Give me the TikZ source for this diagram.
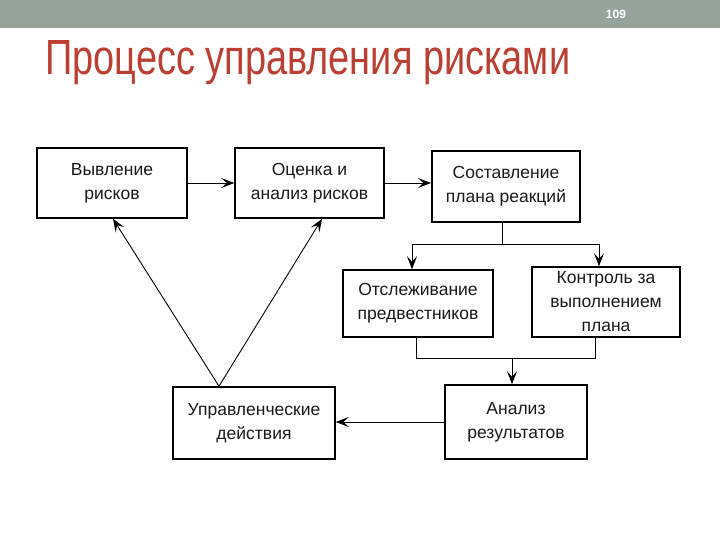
\documentclass[tikz,border=0pt]{standalone}
\usepackage{fontspec}
\setmainfont{Liberation Sans}
\usetikzlibrary{arrows.meta,calc}
\definecolor{barcol}{HTML}{95A39A}
\definecolor{titlecol}{HTML}{BC3F33}
\definecolor{txtcol}{HTML}{1A1A1A}
\tikzset{
  box/.style={draw=black, line width=1.6pt, fill=white, align=center, text=txtcol,
    font=\fontsize{17.5}{24}\selectfont, inner sep=2pt},
  arr/.style={line width=0.9pt, -{Stealth[length=13pt,width=10pt,inset=5.5pt]}},
  ln/.style={line width=0.9pt}
}
\begin{document}
\begin{tikzpicture}[x=1pt,y=-1pt]
\useasboundingbox (0,0) rectangle (720,540);
\fill[barcol] (0,0) rectangle (720,28);
\node[text=white, font=\bfseries\fontsize{12}{12}\selectfont] (pg) at (616,14) {109};
\node[anchor=base west, inner sep=0pt, text=titlecol] (title) at (45,75)
  {\resizebox{525pt}{34pt}{\fontsize{40}{40}\selectfont Процесс управления рисками}};

\node[box, minimum width=150pt, minimum height=70pt] (b1) at (112,183) {Вывление\\рисков};
\node[box, minimum width=149pt, minimum height=70pt] (b2) at (309.5,183) {Оценка и\\анализ рисков};
\node[box, minimum width=148pt, minimum height=71pt, line width=2.2pt] (b3) at (506,186.5) {Составление\\плана реакций};
\node[box, minimum width=150pt, minimum height=67pt] (b4) at (418,303.5) {Отслеживание\\предвестников};
\node[box, minimum width=148pt, minimum height=70pt] (b5) at (606,302) {Контроль за\\выполнением\\плана};
\node[box, minimum width=142pt, minimum height=74pt] (b6) at (516,422) {Анализ\\результатов};
\node[box, minimum width=162pt, minimum height=72pt] (b7) at (254,423) {Управленческие\\действия};

\draw[arr] (b1.east) -- (b2.west);
\draw[arr] (b2.east) -- (b2.east-|b3.west);

\coordinate (s) at (502,244);
\coordinate (sl) at (412,244);
\coordinate (sr) at (599,244);
\draw[ln] (b3.south-|s) -- (s);
\draw[ln] (sl) -- (sr);
\draw[arr] (sl) -- (b4.north-|sl);
\draw[arr] (sr) -- (b5.north-|sr);

\coordinate (ml) at (416,358);
\coordinate (mr) at (595,358);
\coordinate (m) at (512,358);
\draw[ln] (b4.south-|ml) -- (ml) -- (mr) -- (b5.south-|mr);
\draw[arr] (m) -- (b6.north-|m);

\draw[arr] (b6.west) -- (b6.west-|b7.east);

\coordinate (apex) at (219,387);
\coordinate (t1) at (113,220);
\coordinate (t2) at (322,220);
\draw[arr] (b7.north-|apex) -- (t1|-b1.south);
\draw[arr] (b7.north-|apex) -- (t2|-b2.south);
\end{tikzpicture}
\end{document}
